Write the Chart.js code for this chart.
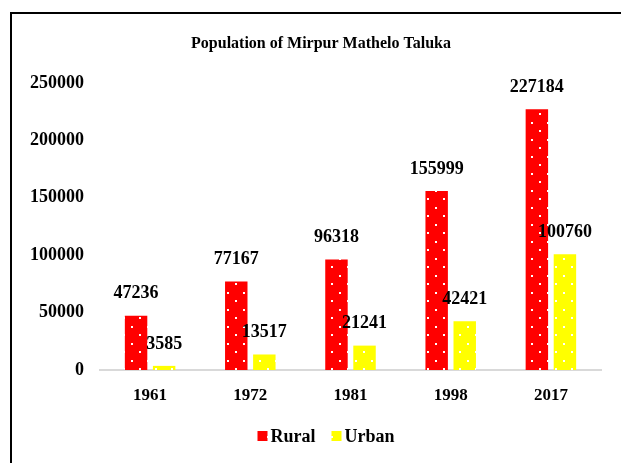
<!DOCTYPE html>
<html>
<head>
<meta charset="utf-8">
<script src="https://cdn.jsdelivr.net/npm/chart.js@4"></script>
<style>
  html, body { margin: 0; padding: 0; background: #fff; }
  #wrap { position: relative; width: 621px; height: 463px; }
</style>
</head>
<body>
<div id="wrap"><canvas id="myCanvas" width="621" height="463"></canvas></div>
<script>
 // values
 var years = ['1961', '1972', '1981', '1998', '2017'];
 var rural = [47236, 77167, 96318, 155999, 227184];
 var urban = [3585, 13517, 21241, 42421, 100760];
 var yTicks = [0, 50000, 100000, 150000, 200000, 250000];
 var titleText = 'Population of Mirpur Mathelo Taluka';

 var serif = "'Liberation Serif', 'Times New Roman', serif";
 var frameCenter = 321;

 function dots(color){
    var c = document.createElement('canvas');
    c.width = 16; c.height = 17;
    var g = c.getContext('2d');
    g.fillStyle = color;
    g.fillRect(0, 0, 16, 17);
    g.fillStyle = '#ffffff';
    g.fillRect(3, 3, 2, 2);
    g.fillRect(11, 11, 2, 2);
    return g.createPattern(c, 'repeat');
 }

 // frame, title and legend are centred on the frame, not the plot
 var framePlugin = {
    id: 'frame',
    beforeDraw: function(chart){
        var ctx = chart.ctx;
        ctx.save();
        ctx.fillStyle = '#fff';
        ctx.fillRect(0, 0, chart.width, chart.height);
        ctx.strokeStyle = '#000';
        ctx.lineWidth = 2;
        ctx.beginPath();
        ctx.moveTo(11, 470);
        ctx.lineTo(11, 13);
        ctx.lineTo(630, 13);
        ctx.stroke();

        ctx.fillStyle = '#000';
        ctx.textAlign = 'center';
        ctx.textBaseline = 'middle';
        ctx.font = 'bold 16px ' + serif;
        ctx.fillText(titleText, frameCenter, 44);

        // legend
        ctx.font = 'bold 18px ' + serif;
        ctx.textAlign = 'left';
        var items = chart.data.datasets.map(function(ds){
            return { text: ds.label, color: ds.backgroundColor, w: 10 + 3 + ctx.measureText(ds.label).width };
        });
        var gap = 16;
        var total = items.reduce(function(a, it){ return a + it.w; }, 0) + gap * (items.length - 1);
        var x = frameCenter - total / 2 + 5;
        items.forEach(function(it){
            ctx.fillStyle = it.color;
            ctx.fillRect(x, 431, 10, 10);
            ctx.fillStyle = '#000';
            ctx.fillText(it.text, x + 13, 437);
            x += it.w + gap;
        });
        ctx.restore();
    }
 };

 var labelPlugin = {
    id: 'valueLabels',
    afterDatasetsDraw: function(chart){
        var ctx = chart.ctx;
        ctx.save();
        ctx.font = 'bold 18px ' + serif;
        ctx.fillStyle = '#000';
        ctx.textAlign = 'center';
        ctx.textBaseline = 'middle';
        chart.data.datasets.forEach(function(ds, i){
            chart.getDatasetMeta(i).data.forEach(function(bar, j){
                ctx.fillText(ds.data[j], bar.x, bar.y - 22);
            });
        });
        ctx.restore();
    }
 };

 function makeChart(){
    var data = {
        labels: years,
        datasets: [{
            label: 'Rural',
            data: rural,
            backgroundColor: dots('#ff0000')
        }, {
            label: 'Urban',
            data: urban,
            backgroundColor: dots('#ffff00')
        }]
    };
    var config = {
        type: 'bar',
        data: data,
        options: {
            responsive: false,
            animation: false,
            layout: { padding: { left: 10, right: 20, top: 83, bottom: 63 } },
            datasets: { bar: { categoryPercentage: 0.56, barPercentage: 0.8 } },
            plugins: {
                tooltip: { enabled: false },
                title: { display: false },
                legend: { display: false }
            },
            scales: {
                x: {
                    grid: { display: false },
                    border: { display: true, color: '#d9d9d9', width: 2 },
                    ticks: { color: '#000', padding: 7, font: { family: serif, size: 17, weight: 'bold' } },
                    afterFit: function(s){ s.height = 30; }
                },
                y: {
                    min: 0,
                    max: 250000,
                    grid: { display: false, drawTicks: false },
                    border: { display: false },
                    afterBuildTicks: function(s){ s.ticks = yTicks.map(function(v){ return { value: v }; }); },
                    ticks: { color: '#000', padding: 16, font: { family: serif, size: 18, weight: 'bold' },
                        callback: function(v){ return String(v); } },
                    afterFit: function(s){ s.width = 90; }
                }
            }
        },
        plugins: [framePlugin, labelPlugin]
    };
    var myChart = new Chart(document.getElementById('myCanvas'), config);
 }
 makeChart();
</script>
</body>
</html>
